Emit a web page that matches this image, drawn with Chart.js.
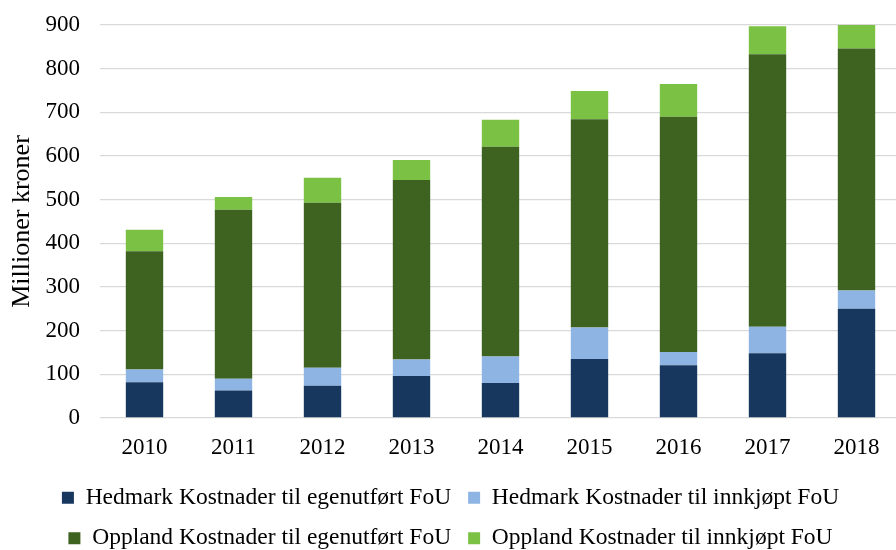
<!DOCTYPE html>
<html>
<head>
<meta charset="utf-8">
<script src="https://cdn.jsdelivr.net/npm/chart.js@4/dist/chart.umd.min.js"></script>
<style>
  html, body { margin: 0; padding: 0; background: #ffffff; }
  #outer { width: 896px; height: 550px; overflow: hidden; position: relative; }
  #wrap { width: 901px; height: 550px; position: relative; }
</style>
</head>
<body>
<div id="outer"><div id="wrap"><canvas id="c"></canvas></div></div>
<script>
const years = ['2010', '2011', '2012', '2013', '2014', '2015', '2016', '2017', '2018'];
const hedmarkEgen = [82, 63, 74, 96, 80, 135, 121, 148, 250];
const hedmarkInnkjopt = [29, 27, 41, 38, 61, 72, 30, 61, 42];
const opplandEgen = [271, 387, 378, 411, 480, 477, 539, 624, 554];
const opplandInnkjopt = [49, 29, 57, 46, 62, 65, 75, 64, 56];
const seriesNames = [
  'Hedmark Kostnader til egenutført FoU',
  'Hedmark Kostnader til innkjøpt FoU',
  'Oppland Kostnader til egenutført FoU',
  'Oppland Kostnader til innkjøpt FoU'
];
const yTicks = [0, 100, 200, 300, 400, 500, 600, 700, 800, 900];
const yTitle = 'Millioner kroner';

const colors = ['#17375E', '#8EB4E3', '#3E6321', '#7BC143'];
const serif = "'Liberation Serif', 'Times New Roman', serif";

new Chart(document.getElementById('c'), {
  type: 'bar',
  data: {
    labels: years,
    datasets: [hedmarkEgen, hedmarkInnkjopt, opplandEgen, opplandInnkjopt].map((d, i) => ({
      label: seriesNames[i],
      data: d,
      backgroundColor: colors[i],
      borderWidth: 0,
      barPercentage: 0.42,
      categoryPercentage: 1
    }))
  },
  options: {
    responsive: true,
    maintainAspectRatio: false,
    animation: false,
    layout: { padding: { top: 25, right: 0, left: 0, bottom: -10 } },
    plugins: {
      tooltip: { enabled: false },
      legend: {
        position: 'bottom',
        labels: {
          color: '#000000',
          font: { family: serif, size: 23.5 },
          boxWidth: 12,
          boxHeight: 12,
          padding: 17
        }
      }
    },
    scales: {
      x: {
        stacked: true,
        grid: { display: false },
        border: { display: false },
        ticks: { color: '#000000', font: { family: serif, size: 23 }, padding: 8 },
        afterFit: (scale) => { scale.height = 51; }
      },
      y: {
        stacked: true,
        min: 0,
        max: 900,
        afterBuildTicks: (axis) => { axis.ticks = yTicks.map(v => ({ value: v })); },
        afterFit: (scale) => { scale.width = 100; scale.paddingTop = 0; scale.paddingBottom = 0; },
        grid: { color: '#D9D9D9', lineWidth: 1.3, drawTicks: false },
        border: { display: false },
        ticks: { color: '#000000', font: { family: serif, size: 23 }, padding: 20 },
        title: { display: true, text: yTitle, color: '#000000', font: { family: serif, size: 26 }, padding: 7 }
      }
    }
  }
});
</script>
</body>
</html>
